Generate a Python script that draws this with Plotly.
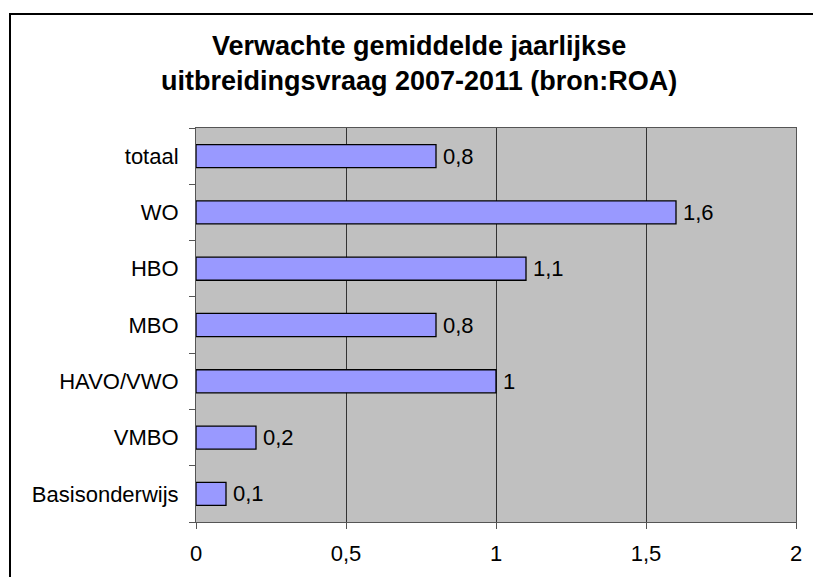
import plotly.graph_objects as go

categories = ["Basisonderwijs", "VMBO", "HAVO/VWO", "MBO", "HBO", "WO", "totaal"]
values = [0.1, 0.2, 1.0, 0.8, 1.1, 1.6, 0.8]
x_tickvals = [0, 0.5, 1, 1.5, 2]
x_ticktext = ["0", "0,5", "1", "1,5", "2"]
title_text = "<b>Verwachte gemiddelde jaarlijkse<br>uitbreidingsvraag 2007-2011 (bron:ROA)</b>"

# page body has an 8px margin; compensate so the page looks like the reference
OFF = 8
W, H = 821 - OFF, 577 - OFF
L, T = 196 - OFF, 128 - OFF
PW, PH = 600, 394
R, B = W - L - PW, H - T - PH
FONT = "Liberation Sans, Arial, sans-serif"


def px(xpage):
    return (xpage - OFF - L) / PW


def py(ypage):
    return 1 + (T - (ypage - OFF)) / PH


fig = go.Figure()
fig.add_trace(go.Bar(
    y=categories, x=values, orientation="h",
    marker=dict(color="#9999FF", line=dict(color="#000000", width=1.3)),
    width=0.41, hoverinfo="skip",
))

for c, v in zip(categories, values):
    fig.add_annotation(x=v, y=c, xref="x", yref="y", text=f"{v:g}".replace(".", ","),
                       showarrow=False, xanchor="left", yanchor="middle", xshift=5,
                       font=dict(family=FONT, size=22, color="#000000"))

# title
fig.add_annotation(x=px(419), y=py(29), xref="paper", yref="paper", text=title_text,
                   showarrow=False, xanchor="center", yanchor="top", align="center",
                   font=dict(family=FONT, size=27, color="#000000"))

# outer chart-area border (extends past the window on the right and bottom)
fig.add_shape(type="rect", xref="paper", yref="paper",
              x0=px(10), x1=px(850), y0=py(620), y1=py(14),
              line=dict(color="#000000", width=2), fillcolor="rgba(0,0,0,0)", layer="above")

fig.update_layout(
    width=W, height=H,
    margin=dict(l=L, r=R, t=T, b=B, pad=0),
    paper_bgcolor="#FFFFFF", plot_bgcolor="#C0C0C0",
    showlegend=False,
    font=dict(family=FONT, size=22, color="#000000"),
    xaxis=dict(range=[0, 2], tickvals=x_tickvals, ticktext=x_ticktext,
               showgrid=True, gridcolor="#333333", gridwidth=1,
               showline=True, linecolor="#555555", linewidth=1, mirror=True,
               ticks="outside", ticklen=6, tickcolor="#555555",
               zeroline=False, tickfont=dict(size=22), ticklabelstandoff=6, fixedrange=True),
    yaxis=dict(showgrid=False, showline=True, linecolor="#555555", linewidth=1, mirror=True,
               ticks="outside", ticklen=6, tickcolor="#555555", tickson="boundaries",
               tickfont=dict(size=22), ticklabelstandoff=12, fixedrange=True),
)

fig.write_html("out.html")
